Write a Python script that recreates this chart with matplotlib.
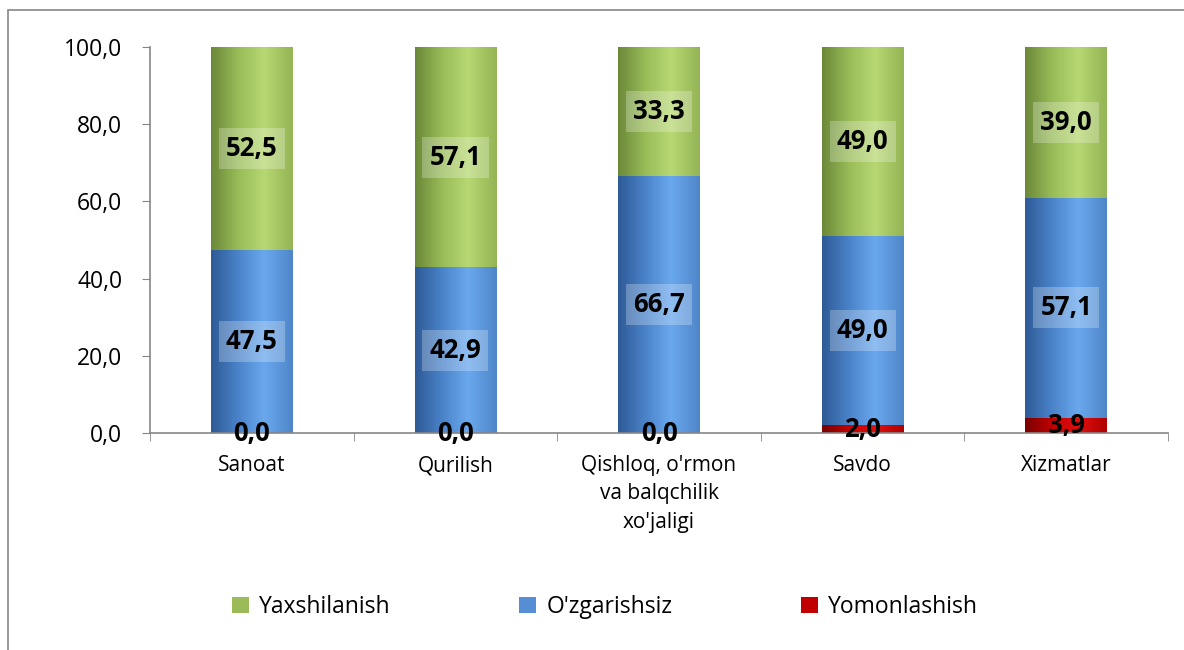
import numpy as np
import matplotlib
matplotlib.use("Agg")
import matplotlib.pyplot as plt
from matplotlib.colors import LinearSegmentedColormap
from matplotlib.patches import Rectangle

categories = ["Sanoat", "Qurilish", "Qishloq, o'rmon\nva balqchilik\nxo'jaligi", "Savdo", "Xizmatlar"]
yomonlashish = [0.0, 0.0, 0.0, 2.0, 3.9]
ozgarishsiz = [47.5, 42.9, 66.7, 49.0, 57.1]
yaxshilanish = [52.5, 57.1, 33.3, 49.0, 39.0]
yticks = [0, 20, 40, 60, 80, 100]

FONT = ["Open Sans", "DejaVu Sans"]
plt.rcParams['font.family'] = FONT

W, H = 1184, 650
fig = plt.figure(figsize=(W / 100, H / 100), dpi=100)
ax = fig.add_axes([150 / W, 1 - 433 / H, (1168 - 150) / W, (433 - 47) / H])

x = np.arange(len(categories))
bw = 0.40
b_red = ax.bar(x, yomonlashish, bw, color="#C00000", label="Yomonlashish", zorder=2)
b_blue = ax.bar(x, ozgarishsiz, bw, bottom=yomonlashish, color="#558ED5", label="O'zgarishsiz", zorder=2)
bottom2 = [a + b for a, b in zip(yomonlashish, ozgarishsiz)]
b_green = ax.bar(x, yaxshilanish, bw, bottom=bottom2, color="#9BBB59", label="Yaxshilanish", zorder=2)

cmaps = {
    "red": LinearSegmentedColormap.from_list("r", ["#7a0000", "#c00000", "#e01010", "#b00000"]),
    "blue": LinearSegmentedColormap.from_list("b", ["#2e5a96", "#4a82c8", "#6aa8ee", "#4f86c8"]),
    "green": LinearSegmentedColormap.from_list("g", ["#6b8838", "#98bb58", "#b7d873", "#94b455"]),
}
grad = np.linspace(0, 1, 256).reshape(1, -1)
grad = np.where(grad < 0.65, grad / 0.65 * 0.667, 0.667 + (grad - 0.65) / 0.35 * 0.333)
for bars, key in [(b_red, "red"), (b_blue, "blue"), (b_green, "green")]:
    for p in bars:
        if p.get_height() <= 0:
            continue
        x0, y0 = p.get_x(), p.get_y()
        ax.imshow(grad, extent=[x0, x0 + p.get_width(), y0, y0 + p.get_height()],
                  aspect="auto", cmap=cmaps[key], vmin=0, vmax=1, zorder=2.5, interpolation="bilinear")

def fmt(v):
    return f"{v:.1f}".replace(".", ",")

for bars, vals in [(b_red, yomonlashish), (b_blue, ozgarishsiz), (b_green, yaxshilanish)]:
    for p, v in zip(bars, vals):
        cx = p.get_x() + p.get_width() / 2
        cy = p.get_y() + p.get_height() / 2
        kw = {}
        if v >= 5:
            kw["bbox"] = dict(boxstyle="square,pad=0.28", fc="white", ec="none", alpha=0.25)
        ax.text(cx, cy, fmt(v), ha="center", va="center", fontsize=18.5, fontweight="bold",
                color="black", zorder=5, **kw)

ax.set_xlim(-0.5, len(categories) - 0.5)
ax.set_ylim(0, 100)
ax.set_yticks(yticks)
ax.set_yticklabels([fmt(v) for v in yticks], fontsize=16.5)
ax.set_xticks(x)
ax.set_xticklabels(categories, fontsize=15, linespacing=1.45)
ax.tick_params(axis="x", length=0, pad=16)
ax.set_xticks(np.arange(len(categories) + 1) - 0.5, minor=True)
ax.tick_params(axis="x", which="minor", length=6, color="#868686", direction="out")
ax.tick_params(axis="y", length=6, color="#868686", direction="out", pad=14)
for s in ["top", "right"]:
    ax.spines[s].set_visible(False)
for s in ["left", "bottom"]:
    ax.spines[s].set_color("#868686")
    ax.spines[s].set_linewidth(1.2)

fig.patches.append(Rectangle((8 / W, -0.1), 1.2, 1 - 10 / H + 0.1, transform=fig.transFigure,
                             fill=False, ec="#868686", lw=1.2))

handles = [b_green, b_blue, b_red]
leg = fig.legend(handles, [h.get_label() for h in handles], ncol=3, loc="center",
                 bbox_to_anchor=(605 / W, 1 - 607 / H), frameon=False, fontsize=16.5,
                 handlelength=0.75, handleheight=0.75, handletextpad=0.45, columnspacing=5.6)

fig.savefig("out.png", dpi=100)
